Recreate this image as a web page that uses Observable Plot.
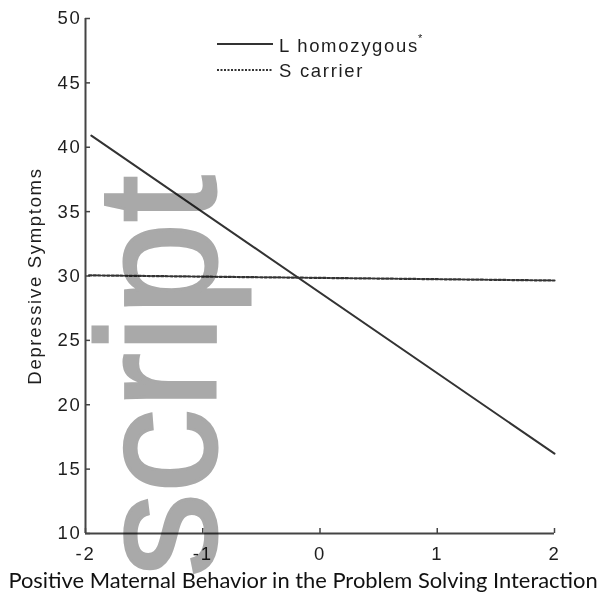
<!DOCTYPE html>
<html>
<head>
<meta charset="utf-8">
<script src="https://cdn.jsdelivr.net/npm/d3@7"></script>
<script src="https://cdn.jsdelivr.net/npm/@observablehq/plot@0.6"></script>
<style>
  html, body { margin: 0; padding: 0; background: #fff; }
  #wrap { position: relative; width: 605px; height: 603px; overflow: hidden; }
  #legend { position: absolute; left: 0; top: 0; width: 605px; height: 100px; pointer-events: none; }
  #wm { position: absolute; left: 0; top: 0; pointer-events: none; mix-blend-mode: multiply; }
</style>
</head>
<body>
<div id="wrap"></div>
<script>
// ---- data ----
const xTicks = [-2, -1, 0, 1, 2];
const yTicks = [10, 15, 20, 25, 30, 35, 40, 45, 50];
const groups = ["L homozygous", "S carrier"];
const lX = [-1.95, 2];
const lY = [40.9, 16.2];
const sX = [-1.97, 2];
const sY = [30.05, 29.65];
const xLabel = "Positive Maternal Behavior in the Problem Solving Interaction";
const yLabel = "Depressive Symptoms";
const watermark = "script";

const lData = lX.map((x, i) => ({x, y: lY[i], g: groups[0]}));
const sData = sX.map((x, i) => ({x, y: sY[i], g: groups[1]}));

const font = "\"Liberation Sans\", Arimo, Arial, Helvetica, sans-serif";
const ink = "#1e1e1e";
const fmt = d => String(d);

const plot = Plot.plot({
  width: 605,
  height: 603,
  marginLeft: 85,
  marginRight: 51,
  marginTop: 18,
  marginBottom: 70,
  style: {fontFamily: font, fontSize: "18.5px", color: ink, background: "transparent", letterSpacing: "1.7px"},
  x: {domain: [xTicks[0], xTicks[xTicks.length - 1]]},
  y: {domain: [yTicks[0], yTicks[yTicks.length - 1]]},
  marks: [
    Plot.axisY(yTicks, {tickSize: -5, tickPadding: 9, tickFormat: fmt, label: null, stroke: "#444", strokeWidth: 1.5, fill: ink}),
    Plot.axisX(xTicks, {tickSize: -5, tickPadding: 18, tickFormat: fmt, label: null, stroke: "#444", strokeWidth: 1.5, fill: ink}),
    Plot.ruleX([xTicks[0]], {stroke: "#444", strokeWidth: 2}),
    Plot.ruleY([yTicks[0]], {stroke: "#444", strokeWidth: 2}),
    Plot.line(sData, {x: "x", y: "y", stroke: "#333", strokeWidth: 2.2, strokeDasharray: "2.5,2"}),
    Plot.line(lData, {x: "x", y: "y", stroke: "#333", strokeWidth: 2}),
    Plot.text([yLabel], {frameAnchor: "left", textAnchor: "middle", rotate: -90, dx: -50, fill: ink, fontSize: 18.5}),
    Plot.text([xLabel], {frameAnchor: "bottom", textAnchor: "middle", dx: -17, dy: 54, fill: "#111", fontSize: 21.9, fontFamily: "Lato, 'Open Sans', sans-serif"})
  ]
});
d3.select(plot).selectAll("text").filter(function() { return this.textContent === xLabel; })
  .style("letter-spacing", "0px");

const wrap = document.getElementById("wrap");
wrap.appendChild(plot);

// legend overlay
const leg = d3.select(wrap).append("svg").attr("id", "legend").attr("width", 605).attr("height", 100);
const legendRows = [
  {name: groups[0], dash: null, ly: 44, ty: 51.5},
  {name: groups[1], dash: "2,1.5", ly: 70, ty: 77}
];
legendRows.forEach((r, i) => {
  leg.append("line").attr("x1", 217).attr("x2", 273).attr("y1", r.ly).attr("y2", r.ly)
    .attr("stroke", "#333").attr("stroke-width", 2).attr("stroke-dasharray", r.dash);
  const t = leg.append("text").attr("x", 279).attr("y", r.ty)
    .style("font-family", font).style("font-size", "18.5px").style("letter-spacing", "1.7px")
    .attr("fill", ink).text(r.name);
  if (i === 0) t.append("tspan").attr("dx", -1).attr("dy", -10).style("font-size", "11px").text("*");
});

// watermark overlay
const wm = d3.select(wrap).append("svg").attr("id", "wm").attr("width", 605).attr("height", 603);
wm.append("text").attr("transform", "translate(215,577) rotate(-90)")
  .style("font-family", font).style("font-size", "168px")
  .attr("fill", "#a9a9a9").attr("stroke", "#a9a9a9").attr("stroke-width", 3).text(watermark);
</script>
</body>
</html>
